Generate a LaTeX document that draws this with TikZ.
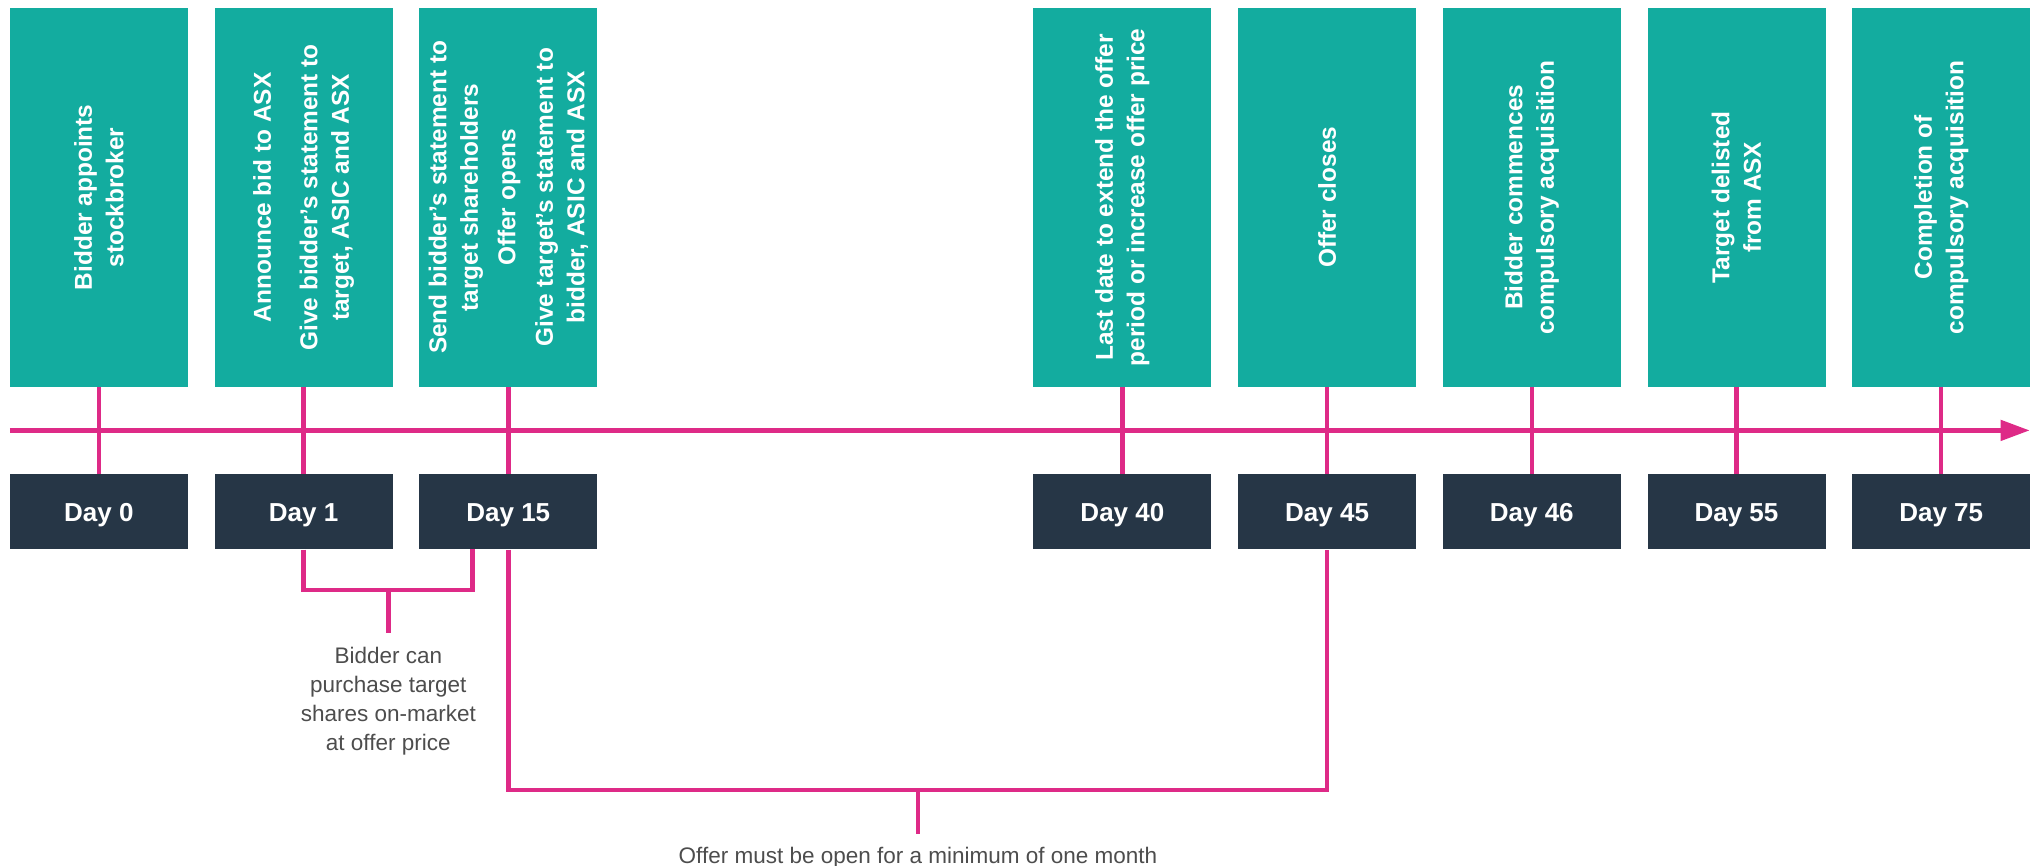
\documentclass[tikz,border=0pt]{standalone}
\usepackage{fontspec}
\setmainfont{Liberation Sans}
\usetikzlibrary{arrows.meta}
\definecolor{tealc}{HTML}{13AC9F}
\definecolor{navyc}{HTML}{263646}
\definecolor{magc}{HTML}{DE2A87}
\definecolor{grayc}{HTML}{4D4D4D}
\begin{document}
\begin{tikzpicture}[x=1pt,y=1pt,
  event/.style={fill=tealc, rotate=90, minimum width=378.9pt, minimum height=178pt,
    inner sep=0pt, text=white, font=\fontsize{24.4}{31.5}\selectfont\bfseries, align=center},
  day/.style={fill=navyc, minimum width=178pt, minimum height=75pt, inner sep=0pt,
    text=white, font=\fontsize{26}{30}\selectfont\bfseries, text height=18.7pt, text depth=0pt},
  link/.style={draw=magc, line width=4.5pt},
  note/.style={text=grayc, font=\fontsize{22.5}{29}\selectfont, align=center, inner sep=0pt}
]
\useasboundingbox (0,0) rectangle (2035,-866);

% event boxes
\node[event] (e0)  at (98.9,-197.35)  {Bidder appoints\\stockbroker};
\node[event] (e1)  at (303.6,-197.35) {Announce bid to ASX\\[15pt]Give bidder’s statement to\\target, ASIC and ASX};
\node[event] (e15) at (508.3,-197.35) {Send bidder’s statement to\\target shareholders\\[6pt]Offer opens\\[6pt]Give target’s statement to\\bidder, ASIC and ASX};
\node[event] (e40) at (1122.4,-197.35) {Last date to extend the offer\\period or increase offer price};
\node[event] (e45) at (1327.1,-197.35) {Offer closes};
\node[event] (e46) at (1531.8,-197.35) {Bidder commences\\compulsory acquisition};
\node[event] (e55) at (1736.5,-197.35) {Target delisted\\from ASX};
\node[event] (e75) at (1941.2,-197.35) {Completion of\\compulsory acquisition};

% day boxes
\node[day] (d0)  at (98.9,-511.8)   {Day 0};
\node[day] (d1)  at (303.6,-511.8)  {Day 1};
\node[day] (d15) at (508.3,-511.8)  {Day 15};
\node[day] (d40) at (1122.4,-511.8) {Day 40};
\node[day] (d45) at (1327.1,-511.8) {Day 45};
\node[day] (d46) at (1531.8,-511.8) {Day 46};
\node[day] (d55) at (1736.5,-511.8) {Day 55};
\node[day] (d75) at (1941.2,-511.8) {Day 75};

% timeline
\coordinate (tl0) at (9.9,-430.4);
\coordinate (tl1) at (2029.7,-430.4);
\draw[link, -{Triangle[length=29pt,width=20pt]}] (tl0) -- (tl1);

% connectors
\foreach \k in {0,1,15,40,45,46,55,75}{
  \draw[link] (e\k.west) -- (d\k.north);
}

% bracket 1
\coordinate (b1r) at (472.5,-549.3);
\coordinate (b1m) at (388.3,-590);
\coordinate (b1s) at (388.3,-633.3);
\draw[link] (d1.south) |- (b1m) -| (b1r);
\draw[link] (b1m) -- (b1s);
\node[note, anchor=north] (n1) at (388.3,-647) {Bidder can\\purchase target\\shares on-market\\at offer price};

% bracket 2
\coordinate (b2m) at (918,-790);
\coordinate (b2s) at (918,-834.3);
\draw[link] (d15.south) |- (b2m) -| (d45.south);
\draw[link] (b2m) -- (b2s);
\node[note, anchor=base] (n2) at (918,-863.3) {Offer must be open for a minimum of one month};
\end{tikzpicture}
\end{document}
